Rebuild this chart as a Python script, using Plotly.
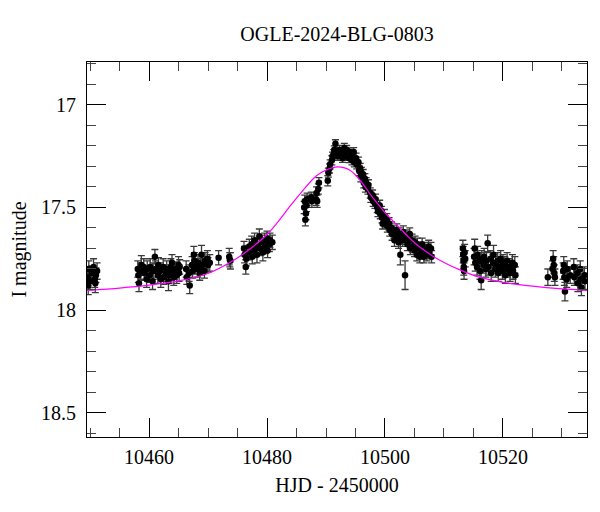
import plotly.graph_objects as go

# ---- photometry (HJD-2450000, I mag, error) ----
a_hjd = [10449.6, 10449.7, 10449.8, 10450.0, 10450.3, 10450.6, 10450.8, 10450.9, 10451.0, 10451.2]
a_mag = [17.84, 17.88, 17.80, 17.86, 17.82, 17.79, 17.85, 17.87, 17.83, 17.81]
a_err = [0.04, 0.045, 0.04, 0.04, 0.035, 0.04, 0.04, 0.045, 0.035, 0.04]

b_hjd = [10458.1, 10458.2, 10458.3, 10458.6, 10458.7, 10459.1, 10459.2, 10459.6, 10459.7, 10460.1,
         10460.2, 10460.6, 10460.7, 10461.0, 10461.1, 10461.5, 10461.6, 10461.9, 10462.0, 10462.4,
         10462.5, 10462.9, 10463.0, 10463.3, 10463.4, 10463.7, 10463.8, 10463.9, 10464.2, 10464.3,
         10464.6, 10464.7, 10465.0, 10465.1, 10465.2]
b_mag = [17.80, 17.83, 17.87, 17.81, 17.78, 17.79, 17.82, 17.85, 17.80, 17.83,
         17.79, 17.86, 17.81, 17.74, 17.80, 17.83, 17.78, 17.81, 17.85, 17.79,
         17.84, 17.82, 17.80, 17.86, 17.83, 17.79, 17.82, 17.77, 17.84, 17.81,
         17.80, 17.83, 17.78, 17.82, 17.79]
b_err = [0.04, 0.035, 0.04, 0.04, 0.045, 0.04, 0.035, 0.04, 0.04, 0.035,
         0.04, 0.04, 0.04, 0.035, 0.04, 0.04, 0.035, 0.04, 0.04, 0.04,
         0.035, 0.04, 0.04, 0.045, 0.04, 0.04, 0.035, 0.04, 0.04, 0.04,
         0.035, 0.04, 0.04, 0.04, 0.035]

c_hjd = [10466.3, 10466.4, 10466.8, 10466.9, 10467.3, 10467.4, 10467.6, 10467.7, 10467.8, 10468.2,
         10468.3, 10468.6, 10468.7, 10468.9, 10469.0, 10469.4, 10469.5, 10469.9, 10470.0, 10470.3]
c_mag = [17.80, 17.84, 17.82, 17.88, 17.78, 17.81, 17.73, 17.76, 17.79, 17.80,
         17.77, 17.82, 17.79, 17.73, 17.78, 17.81, 17.76, 17.75, 17.78, 17.77]
c_err = [0.04, 0.035, 0.04, 0.04, 0.04, 0.035, 0.04, 0.04, 0.035, 0.04,
         0.04, 0.035, 0.04, 0.045, 0.04, 0.035, 0.04, 0.04, 0.035, 0.04]

d_hjd = [10471.8, 10473.6, 10473.7, 10473.8]
d_mag = [17.745, 17.74, 17.755, 17.76]
d_err = [0.035, 0.04, 0.035, 0.04]

e_hjd = [10476.1, 10476.2, 10476.4, 10476.5, 10476.9, 10477.0, 10477.4, 10477.5, 10477.8, 10477.9,
         10478.3, 10478.4, 10478.7, 10478.8, 10479.2, 10479.3, 10479.6, 10479.7, 10480.0, 10480.1,
         10480.4, 10480.5, 10480.9]
e_mag = [17.70, 17.73, 17.79, 17.75, 17.72, 17.69, 17.68, 17.74, 17.71, 17.66,
         17.73, 17.69, 17.64, 17.70, 17.67, 17.72, 17.66, 17.69, 17.65, 17.71,
         17.68, 17.66, 17.67]
e_err = [0.035, 0.04, 0.035, 0.035, 0.035, 0.035, 0.04, 0.035, 0.035, 0.035,
         0.04, 0.035, 0.035, 0.035, 0.035, 0.04, 0.035, 0.035, 0.035, 0.035,
         0.035, 0.035, 0.035]

f_hjd = [10486.3, 10486.4, 10486.5, 10486.6, 10486.7, 10486.8, 10487.5, 10487.6, 10488.3, 10488.4,
         10488.5, 10488.7, 10488.8]
f_mag = [17.50, 17.47, 17.56, 17.53, 17.49, 17.46, 17.45, 17.47, 17.46, 17.43,
         17.47, 17.41, 17.38]
f_err = [0.03, 0.03, 0.03, 0.03, 0.03, 0.03, 0.025, 0.03, 0.03, 0.03,
         0.03, 0.025, 0.025]

g_hjd = [10490.3, 10490.4, 10490.6, 10490.7, 10491.0, 10491.1, 10491.3, 10491.4, 10491.6, 10491.9,
         10492.0, 10492.3, 10492.4, 10492.7, 10492.8, 10493.1, 10493.2, 10493.5, 10493.6, 10493.9,
         10494.0, 10494.3, 10494.4, 10494.7, 10494.8, 10495.1, 10495.2]
g_mag = [17.37, 17.33, 17.31, 17.29, 17.27, 17.25, 17.24, 17.22, 17.19, 17.23,
         17.25, 17.22, 17.24, 17.23, 17.26, 17.21, 17.25, 17.22, 17.24, 17.26,
         17.23, 17.24, 17.27, 17.23, 17.28, 17.26, 17.29]
g_err = [0.025, 0.022, 0.022, 0.022, 0.022, 0.02, 0.022, 0.02, 0.02, 0.022,
         0.02, 0.022, 0.02, 0.022, 0.02, 0.022, 0.02, 0.022, 0.02, 0.022,
         0.02, 0.022, 0.022, 0.022, 0.022, 0.025, 0.022]

h_hjd = [10495.5, 10495.6, 10495.8, 10495.9, 10496.0, 10496.3, 10496.4, 10496.6, 10496.7, 10496.8,
         10497.1, 10497.2, 10497.5, 10497.6, 10497.9, 10498.0, 10498.3, 10498.4, 10498.7, 10498.8,
         10499.1, 10499.2, 10499.4, 10499.5, 10499.6, 10499.9, 10500.0, 10500.3, 10500.4, 10500.7,
         10500.8, 10501.1, 10501.2, 10501.5, 10501.6, 10501.9, 10502.0, 10502.3, 10502.4, 10502.6,
         10502.7, 10503.0, 10503.1, 10503.4, 10503.5, 10503.8, 10503.9, 10504.2, 10504.3, 10504.6,
         10504.7, 10505.0, 10505.1, 10505.4, 10505.5, 10505.8, 10505.9, 10506.2, 10506.3, 10506.6,
         10506.7, 10507.0, 10507.1, 10507.4, 10507.5, 10507.8, 10507.9]
h_mag = [17.28, 17.32, 17.31, 17.35, 17.33, 17.34, 17.38, 17.36, 17.40, 17.38,
         17.41, 17.39, 17.43, 17.45, 17.44, 17.47, 17.48, 17.46, 17.50, 17.52,
         17.49, 17.53, 17.52, 17.55, 17.58, 17.54, 17.57, 17.56, 17.59, 17.58,
         17.61, 17.60, 17.63, 17.62, 17.66, 17.64, 17.61, 17.67, 17.63, 17.73,
         17.65, 17.66, 17.62, 17.83, 17.64, 17.68, 17.65, 17.63, 17.70, 17.66,
         17.69, 17.71, 17.67, 17.73, 17.68, 17.70, 17.74, 17.72, 17.68, 17.74,
         17.70, 17.71, 17.73, 17.69, 17.72, 17.70, 17.74]
h_err = [0.025, 0.025, 0.025, 0.025, 0.025, 0.025, 0.025, 0.025, 0.025, 0.025,
         0.025, 0.025, 0.025, 0.025, 0.025, 0.025, 0.025, 0.025, 0.025, 0.025,
         0.025, 0.025, 0.025, 0.025, 0.025, 0.03, 0.03, 0.03, 0.03, 0.03,
         0.03, 0.03, 0.03, 0.03, 0.03, 0.03, 0.03, 0.03, 0.03, 0.05,
         0.03, 0.03, 0.03, 0.07, 0.03, 0.03, 0.03, 0.03, 0.03, 0.03,
         0.03, 0.03, 0.03, 0.03, 0.03, 0.03, 0.03, 0.03, 0.03, 0.03,
         0.03, 0.03, 0.03, 0.03, 0.03, 0.03, 0.03]

i_hjd = [10513.2, 10513.25, 10513.3, 10513.35, 10513.4, 10513.5, 10513.6]
i_mag = [17.70, 17.73, 17.76, 17.79, 17.81, 17.72, 17.75]
i_err = [0.04, 0.04, 0.04, 0.04, 0.04, 0.04, 0.04]

j_hjd = [10515.1, 10515.2, 10515.3, 10515.6, 10515.7, 10516.0, 10516.1, 10516.3, 10516.4, 10516.7,
         10516.8, 10517.1, 10517.2, 10517.4, 10517.5, 10517.9, 10518.0, 10518.3, 10518.4, 10518.7,
         10518.8, 10519.1, 10519.2, 10519.5, 10519.6, 10519.9, 10520.0, 10520.3, 10520.4, 10520.7,
         10520.8, 10521.1, 10521.2, 10521.6, 10521.7, 10522.0, 10522.1]
j_mag = [17.74, 17.70, 17.77, 17.79, 17.73, 17.76, 17.81, 17.855, 17.75, 17.78,
         17.74, 17.80, 17.76, 17.675, 17.79, 17.75, 17.82, 17.77, 17.73, 17.80,
         17.78, 17.76, 17.82, 17.79, 17.75, 17.81, 17.77, 17.78, 17.83, 17.76,
         17.80, 17.79, 17.82, 17.77, 17.81, 17.78, 17.83]
j_err = [0.04, 0.045, 0.04, 0.04, 0.04, 0.04, 0.04, 0.045, 0.04, 0.04,
         0.04, 0.04, 0.04, 0.04, 0.04, 0.04, 0.04, 0.04, 0.045, 0.04,
         0.04, 0.04, 0.04, 0.04, 0.04, 0.04, 0.04, 0.04, 0.04, 0.04,
         0.04, 0.04, 0.04, 0.04, 0.04, 0.04, 0.04]

k_hjd = [10527.6, 10528.4, 10528.5, 10528.6, 10528.7, 10528.8]
k_mag = [17.84, 17.80, 17.75, 17.78, 17.82, 17.84]
k_err = [0.04, 0.04, 0.04, 0.04, 0.04, 0.04]

l_hjd = [10530.2, 10530.3, 10530.4, 10530.5, 10530.8, 10530.9, 10531.4, 10532.0, 10532.1, 10532.6,
         10532.7, 10533.1, 10533.2, 10533.3, 10533.8, 10533.9]
l_mag = [17.81, 17.78, 17.84, 17.91, 17.85, 17.80, 17.83, 17.79, 17.84, 17.82,
         17.87, 17.80, 17.85, 17.89, 17.83, 17.86]
l_err = [0.04, 0.04, 0.04, 0.045, 0.04, 0.04, 0.04, 0.04, 0.04, 0.04,
         0.04, 0.04, 0.04, 0.04, 0.04, 0.04]

# ---- model light curve ----
model_hjd = [10449.5, 10455, 10460, 10465, 10470, 10474, 10477, 10480, 10482, 10484,
             10486, 10488, 10489, 10490, 10491, 10492, 10493, 10494, 10495, 10496,
             10497, 10498, 10499, 10500, 10501, 10502, 10503, 10504, 10505, 10506,
             10508, 10510, 10513, 10516, 10520, 10525, 10530, 10534.3]
model_mag = [17.904, 17.893, 17.879, 17.858, 17.822, 17.764, 17.705, 17.632, 17.565, 17.49,
             17.42, 17.355, 17.333, 17.318, 17.307, 17.302, 17.306, 17.318, 17.342, 17.375,
             17.415, 17.455, 17.49, 17.525, 17.555, 17.585, 17.615, 17.645, 17.672, 17.695,
             17.735, 17.768, 17.808, 17.84, 17.865, 17.884, 17.897, 17.904]

x_ticks = [10460, 10480, 10500, 10520]
y_ticks = [17, 17.5, 18, 18.5]
y_tick_text = ["17", "17.5", "18", "18.5"]

hjd = a_hjd + b_hjd + c_hjd + d_hjd + e_hjd + f_hjd + g_hjd + h_hjd + i_hjd + j_hjd + k_hjd + l_hjd
mag = a_mag + b_mag + c_mag + d_mag + e_mag + f_mag + g_mag + h_mag + i_mag + j_mag + k_mag + l_mag
err = a_err + b_err + c_err + d_err + e_err + f_err + g_err + h_err + i_err + j_err + k_err + l_err

FONT = "Liberation Serif"
X_RANGE = [10449.49, 10534.24]
Y_RANGE = [18.619, 16.791]

fig = go.Figure()
fig.add_trace(go.Scatter(
    x=hjd, y=mag, mode="markers",
    marker=dict(color="black", size=6.5, symbol="circle"),
    error_y=dict(type="data", array=err, visible=True, color="#3a3a3a", thickness=1.3, width=3.5),
    showlegend=False, hoverinfo="x+y",
))
fig.add_trace(go.Scatter(
    x=model_hjd, y=model_mag, mode="lines",
    line=dict(color="#ff00ff", width=1.2, shape="spline", smoothing=0.8),
    showlegend=False, hoverinfo="skip",
))
# invisible companion trace so the top/right frame axes are drawn
fig.add_trace(go.Scatter(
    x=model_hjd, y=model_mag, mode="lines", xaxis="x2", yaxis="y2",
    line=dict(color="rgba(0,0,0,0)", width=0), showlegend=False, hoverinfo="skip",
))

common = dict(
    showgrid=False, zeroline=False, showline=True, linecolor="black", linewidth=1.2,
    ticks="inside", ticklen=19, tickwidth=1.1, tickcolor="black", automargin=False,
    tickfont=dict(family=FONT, size=20, color="black"),
)
xminor = dict(dtick=5, tick0=10450, ticks="inside", ticklen=9, tickwidth=1.1, tickcolor="#444")
yminor = dict(dtick=0.1, tick0=16.8, ticks="inside", ticklen=9, tickwidth=1.1, tickcolor="#444")

fig.update_layout(
    width=600, height=512,
    margin=dict(l=87, r=13, t=62, b=75),
    paper_bgcolor="white", plot_bgcolor="white",
    title=dict(text="OGLE-2024-BLG-0803", x=337/600, xanchor="center",
               y=1 - 34/512, yanchor="middle", yref="container",
               font=dict(family=FONT, size=20, color="black")),
    xaxis=dict(range=X_RANGE, tickvals=x_ticks, ticktext=[str(v) for v in x_ticks],
               minor=xminor, ticklabelstandoff=2,
               title=dict(text="HJD - 2450000", font=dict(family=FONT, size=20, color="black"), standoff=10),
               **common),
    yaxis=dict(range=Y_RANGE, tickvals=y_ticks, ticktext=y_tick_text,
               minor=yminor, ticklabelstandoff=6,
               title=dict(text="I magnitude", font=dict(family=FONT, size=20, color="black"), standoff=8),
               **common),
    xaxis2=dict(range=X_RANGE, overlaying="x", side="top", anchor="y2", tickvals=x_ticks,
                showticklabels=False, minor=xminor, **common),
    yaxis2=dict(range=Y_RANGE, overlaying="y", side="right", anchor="x2", tickvals=y_ticks,
                showticklabels=False, minor=yminor, **common),
)

fig.write_html("out.html", config={"displayModeBar": False},
               post_script="document.body.style.margin='0px';")
